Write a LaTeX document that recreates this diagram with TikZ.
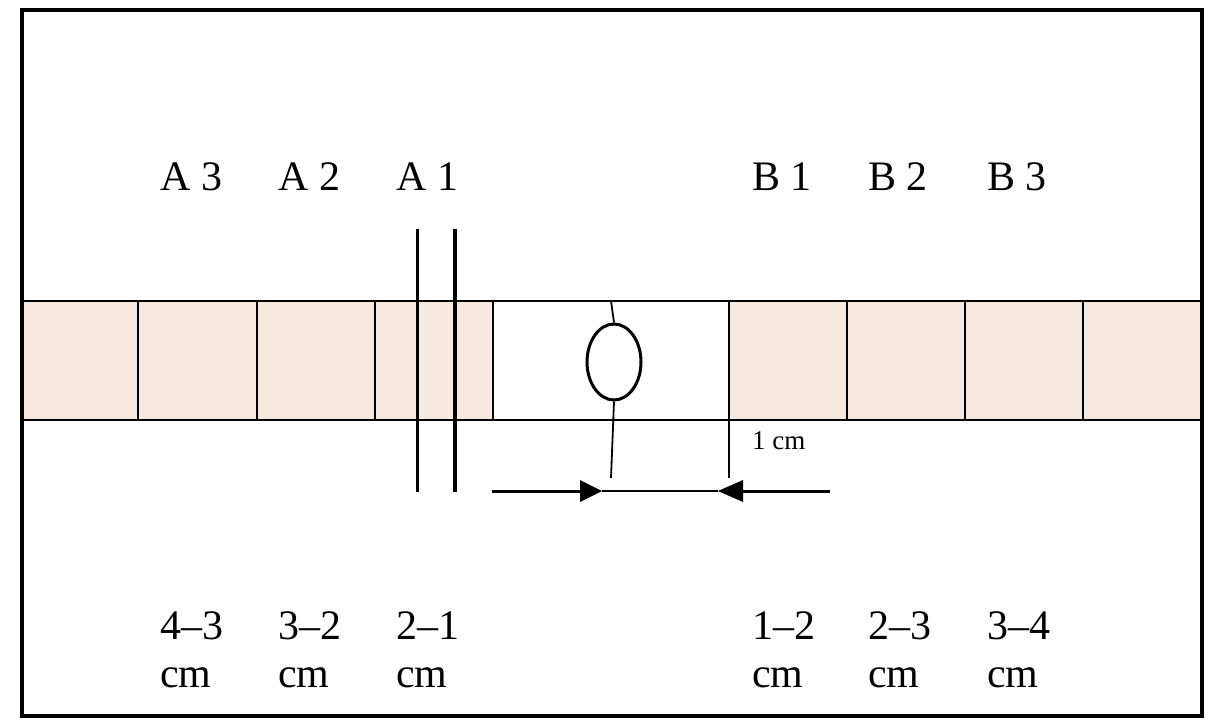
\documentclass[tikz,border=0pt]{standalone}
\usepackage{fontspec}
\usetikzlibrary{shapes.geometric}
\setmainfont{Liberation Serif}
\definecolor{cellfill}{RGB}{246,233,223}
\begin{document}
\begin{tikzpicture}[x=1pt,y=-1pt,
  lbl/.style={font=\fontsize{42}{44}\selectfont,anchor=west,inner sep=0pt},
  thin/.style={line width=1.8pt},
  thick/.style={line width=3.5pt}]
\useasboundingbox (0,0) rectangle (1223,723);
% cells
\foreach \a/\b in {22/138,138/257,257/375,375/493,729/847,847/965,965/1083,1083/1201}
  \fill[cellfill] (\a,301) rectangle (\b,420);
\draw[thin] (22,301) -- (1201,301);
\draw[thin,line width=2.5pt] (22,420) -- (1201,420);
\foreach \x in {138,257,375,493,729,847,965,1083}
  \draw[thin] (\x,301) -- (\x,420);
\node[draw,ellipse,line width=3pt,minimum width=54pt,minimum height=76pt,inner sep=0pt] (e) at (614,362) {};
\coordinate (ct) at (611,301);
\coordinate (cb) at (611,478);
\coordinate (rb) at (729,478);
\draw[thin] (ct) -- (e.north);
\draw[thin] (e.south) -- (cb);
\draw[thin] (729,420) -- (rb);
% cut lines
\coordinate (c1t) at (417,229); \coordinate (c1b) at (417,492);
\coordinate (c2t) at (455,229); \coordinate (c2b) at (455,492);
\draw[line width=3pt] (c1t) -- (c1b);
\draw[line width=3.5pt] (c2t) -- (c2b);
% dimension arrows
\coordinate (l0) at (492,491); \coordinate (l1) at (602,491);
\coordinate (r0) at (830,491); \coordinate (r1) at (718,491);
\draw[line width=3pt] (l0) -- (580,491);
\draw[line width=2pt] (602,491) -- (718,491);
\draw[line width=3pt] (r0) -- (743,491);
\fill (580,480) -- (l1) -- (580,502) -- cycle;
\fill (743,480) -- (r1) -- (743,502) -- cycle;
\node[font=\fontsize{27}{29}\selectfont,anchor=west,inner sep=0pt] (cm) at (752,441) {1 cm};
% labels
\foreach \x/\t/\n in {160/A 3/a3,278/A 2/a2,396/A 1/a1,752/B 1/b1,868/B 2/b2,987/B 3/b3}
  \node[lbl] (\n) at (\x,177) {\t};
\foreach \x/\t/\n in {160/4–3/d1,278/3–2/d2,396/2–1/d3,752/1–2/d4,868/2–3/d5,987/3–4/d6}{
  \node[lbl] (\n) at (\x,626) {\t};
  \node[lbl] (\n c) at (\x,678) {cm};}
% frame
\draw[line width=4.5pt] (22,10) rectangle (1202,716);
\end{tikzpicture}
\end{document}
